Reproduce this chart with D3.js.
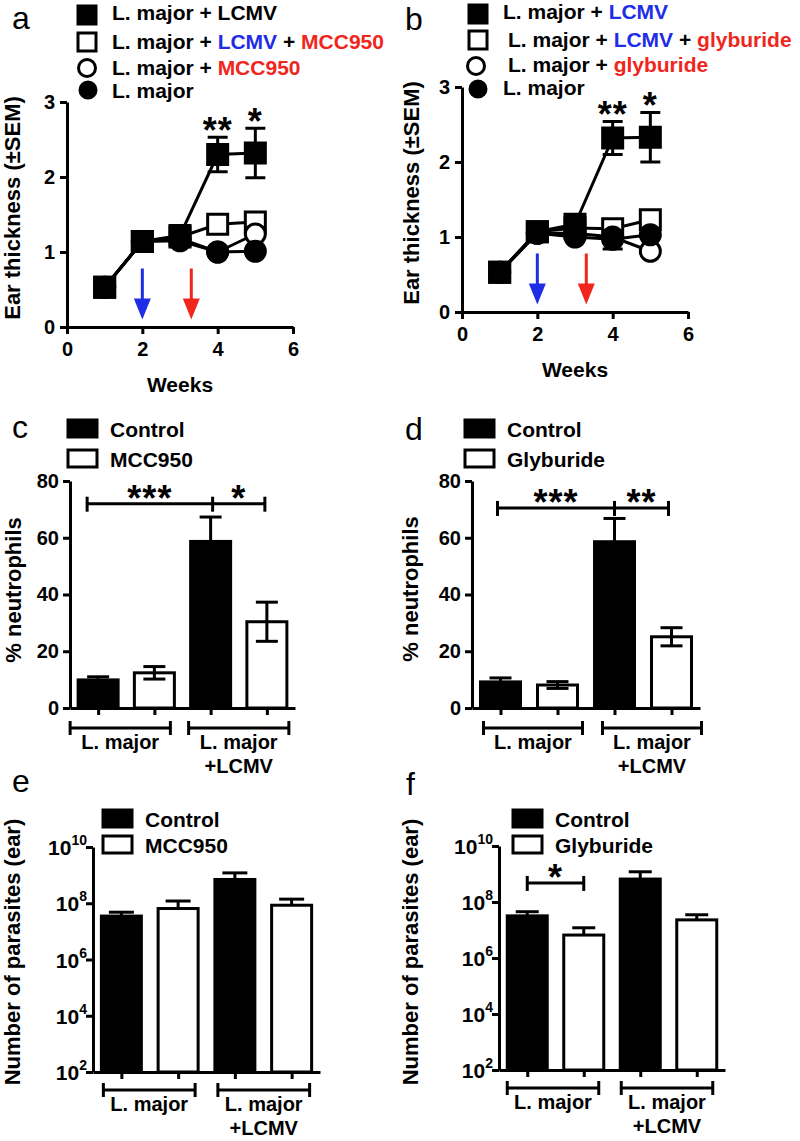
<!DOCTYPE html>
<html><head><meta charset="utf-8">
<script src="https://cdn.jsdelivr.net/npm/d3@7"></script>
<style>body{margin:0;background:#fff} svg text{font-family:"Liberation Sans",Arial,Helvetica,sans-serif;white-space:pre}</style>
</head><body><svg id="c" width="800" height="1141"></svg>
<script>
// ---------- DATA ----------
const weeks = [1, 2, 3, 4, 5];
const weekTicks = [0, 2, 4, 6];
const thickTicks = [0, 1, 2, 3];
const arrowWeeks = [2, 3.3];

// panel a
const aLmLcmv      = [0.53, 1.14, 1.22, 2.30, 2.32];
const aLmLcmvSem   = [0, 0, 0, 0.23, 0.33];
const aLmLcmvMcc   = [0.53, 1.14, 1.20, 1.37, 1.40];
const aLmMcc       = [0.53, 1.14, 1.18, 1.00, 1.24];
const aLm          = [0.53, 1.14, 1.15, 1.00, 1.01];
// panel b
const bLmLcmv      = [0.53, 1.07, 1.17, 2.32, 2.33];
const bLmLcmvSem   = [0, 0, 0, 0.22, 0.33];
const bLmLcmvGly   = [0.53, 1.07, 1.12, 1.11, 1.23];
const bLmGly       = [0.53, 1.05, 1.05, 1.00, 0.81];
const bLm          = [0.53, 1.05, 1.00, 0.97, 1.03];
const bLmSem       = [0, 0, 0, 0.13, 0];

// bar panels
const barCats = ["L. major Control", "L. major Drug", "L. major+LCMV Control", "L. major+LCMV Drug"];
const neutroTicks = [0, 20, 40, 60, 80];
const cNeutro    = [9.9, 12.4, 58.7, 30.4];
const cNeutroSem = [1.1, 2.2, 8.6, 6.9];
const dNeutro    = [9.2, 8.1, 58.6, 25.1];
const dNeutroSem = [1.4, 1.2, 8.2, 3.2];
const parasiteTicks = [1e2, 1e4, 1e6, 1e8, 1e10];
const eParasites    = [3.5e7, 6.5e7, 7.0e8, 8.5e7];
const eParasitesSem = [1.3e7, 5.5e7, 5.0e8, 5.5e7];
const fParasites    = [3.2e7, 6.6e6, 6.6e8, 2.3e7];
const fParasitesSem = [1.3e7, 5.4e6, 5.4e8, 1.2e7];

const BLUE = "#1f2de6", RED = "#f0261c";
const FONT = '"Liberation Sans", Arial, Helvetica, sans-serif';
const svg = d3.select("#c");

function styleAxis(g, fs) {
  g.attr("font-family", FONT).attr("font-size", fs).attr("font-weight", "bold");
  g.select(".domain").attr("stroke-width", 3).attr("stroke", "#000");
  g.selectAll(".tick line").attr("stroke-width", 3).attr("stroke", "#000");
  g.selectAll(".tick text").attr("fill", "#000");
}
function letter(t, x, y) {
  svg.append("text").attr("x", x).attr("y", y).attr("font-size", 32).attr("font-weight", "normal").text(t);
}
function yLabel(t, x, y, fs) {
  svg.append("text").attr("transform", `translate(${x},${y}) rotate(-90)`).attr("text-anchor", "middle")
    .attr("font-size", fs || 22).attr("font-weight", "bold").text(t);
}
function stars(t, cx, cy) {
  const fs = 36;
  svg.append("text").attr("x", cx).attr("y", cy + 0.57 * fs).attr("text-anchor", "middle")
    .attr("font-size", fs).attr("font-weight", "bold").attr("letter-spacing", 1).text(t);
}
function marker(g, type, cx, cy, s) {
  if (type === "fsq" || type === "osq") {
    g.append("rect").attr("x", cx - s / 2).attr("y", cy - s / 2).attr("width", s).attr("height", s)
      .attr("fill", type === "fsq" ? "#000" : "#fff").attr("stroke", "#000").attr("stroke-width", 3);
  } else {
    g.append("circle").attr("cx", cx).attr("cy", cy).attr("r", s / 2)
      .attr("fill", type === "fci" ? "#000" : "#fff").attr("stroke", "#000").attr("stroke-width", 3);
  }
}
function richText(g, x, y, parts, fs) {
  const t = g.append("text").attr("x", x).attr("y", y).attr("font-size", fs).attr("font-weight", "bold");
  parts.forEach(p => t.append("tspan").attr("fill", p[1]).text(p[0]));
}

// ---------- LINE PANELS ----------
function linePanel(c) {
  const g = svg.append("g");
  const x = d3.scaleLinear().domain([0, 6]).range([c.x0, c.x1]);
  const y = d3.scaleLinear().domain([0, 3]).range([c.y0, c.y3]);
  // arrows
  arrowWeeks.forEach((w, i) => {
    const col = i === 0 ? BLUE : RED;
    const ax = x(w), top = y(0.78), tip = y(0.1), headH = 21, headW = 17;
    g.append("line").attr("x1", ax).attr("x2", ax).attr("y1", top).attr("y2", tip - headH + 2)
      .attr("stroke", col).attr("stroke-width", 3);
    g.append("path").attr("d", `M${ax - headW / 2},${tip - headH} L${ax + headW / 2},${tip - headH} L${ax},${tip} Z`).attr("fill", col);
  });
  const line = d3.line().x((d, i) => x(weeks[i])).y(d => y(d));
  c.series.forEach(s => g.append("path").attr("d", line(s.values)).attr("fill", "none")
    .attr("stroke", "#000").attr("stroke-width", 3));
  c.series.forEach(s => {
    if (!s.sem) return;
    s.values.forEach((v, i) => {
      const e = s.sem[i]; if (!e) return;
      const xx = x(weeks[i]);
      g.append("line").attr("x1", xx).attr("x2", xx).attr("y1", y(v - e)).attr("y2", y(v + e)).attr("stroke", "#000").attr("stroke-width", 3);
      [v - e, v + e].forEach(u => g.append("line").attr("x1", xx - 10).attr("x2", xx + 10).attr("y1", y(u)).attr("y2", y(u)).attr("stroke", "#000").attr("stroke-width", 3));
    });
  });
  c.series.forEach(s => s.values.forEach((v, i) => marker(g, s.type, x(weeks[i]), y(v), 20)));
  g.append("g").attr("transform", `translate(0,${c.y0})`)
    .call(d3.axisBottom(x).tickValues(weekTicks).tickSize(7).tickSizeOuter(0).tickPadding(8).tickFormat(d3.format("d")))
    .call(a => styleAxis(a, 20));
  g.append("g").attr("transform", `translate(${c.x0},0)`)
    .call(d3.axisLeft(y).tickValues(thickTicks).tickSize(7).tickSizeOuter(0).tickPadding(5).tickFormat(d3.format("d")))
    .call(a => styleAxis(a, 20));
  g.append("text").attr("x", (c.x0 + c.x1) / 2).attr("y", c.weeksY).attr("text-anchor", "middle")
    .attr("font-size", 21).attr("font-weight", "bold").text("Weeks");
  c.starsAt.forEach(s => {
    const sr = c.series.find(q => q.type === "fsq");
    const i = weeks.indexOf(s[0]);
    stars(s[1], x(s[0]), y(sr.values[i] + sr.sem[i]) - 15);
  });
  // legend
  c.legend.forEach(L => {
    marker(g, L.type, L.mx, L.my, L.ms);
    richText(g, L.tx, L.ty, L.parts, 21);
  });
  return { x, y };
}

const pa = linePanel({
  x0: 67, x1: 293, y0: 327, y3: 102, weeksY: 392,
  series: [
    { type: "osq", values: aLmLcmvMcc },
    { type: "oci", values: aLmMcc },
    { type: "fci", values: aLm },
    { type: "fsq", values: aLmLcmv, sem: aLmLcmvSem }
  ],
  starsAt: [[4, "**"], [5, "*"]],
  legend: [
    { type: "fsq", mx: 87, my: 15, ms: 18, tx: 112, ty: 20, parts: [["L. major + LCMV", "#000"]] },
    { type: "osq", mx: 87, my: 42, ms: 18, tx: 112, ty: 49, parts: [["L. major + ", "#000"], ["LCMV", BLUE], [" + ", "#000"], ["MCC950", RED]] },
    { type: "oci", mx: 87, my: 68, ms: 17, tx: 112, ty: 75, parts: [["L. major + ", "#000"], ["MCC950", RED]] },
    { type: "fci", mx: 88, my: 90, ms: 16, tx: 112, ty: 98, parts: [["L. major", "#000"]] }
  ]
});
const pb = linePanel({
  x0: 462, x1: 688, y0: 312, y3: 87, weeksY: 377,
  series: [
    { type: "osq", values: bLmLcmvGly },
    { type: "oci", values: bLmGly },
    { type: "fci", values: bLm },
    { type: "fsq", values: bLmLcmv, sem: bLmLcmvSem }
  ],
  starsAt: [[4, "**"], [5, "*"]],
  legend: [
    { type: "fsq", mx: 478, my: 14, ms: 18, tx: 503, ty: 19, parts: [["L. major + ", "#000"], ["LCMV", BLUE]] },
    { type: "osq", mx: 478, my: 40, ms: 18, tx: 508, ty: 47, parts: [["L. major + ", "#000"], ["LCMV", BLUE], [" + ", "#000"], ["glyburide", RED]] },
    { type: "oci", mx: 476, my: 66, ms: 17, tx: 508, ty: 72, parts: [["L. major + ", "#000"], ["glyburide", RED]] },
    { type: "fci", mx: 478, my: 89, ms: 16, tx: 503, ty: 95, parts: [["L. major", "#000"]] }
  ]
});
// small SEM on L. major in panel b (week 4), lower whisker below marker
(function () {
  const i = 3, xx = pb.x(weeks[i]), v = bLm[i], e = bLmSem[i];
  svg.append("line").attr("x1", xx).attr("x2", xx).attr("y1", pb.y(v)).attr("y2", pb.y(v - e)).attr("stroke", "#000").attr("stroke-width", 3);
  svg.append("line").attr("x1", xx - 10).attr("x2", xx + 10).attr("y1", pb.y(v - e)).attr("y2", pb.y(v - e)).attr("stroke", "#000").attr("stroke-width", 3);
})();

// ---------- BAR PANELS ----------
const barFill = ["#000", "#fff", "#000", "#fff"];
function barPanel(c) {
  const g = svg.append("g");
  const x = d3.scalePoint().domain(barCats).range([c.x0, c.x1]).padding(0.5);
  const y = c.log ? d3.scaleLog().domain([1e2, 1e10]).range([c.y0, c.yTop])
                  : d3.scaleLinear().domain([0, 80]).range([c.y0, c.yTop]);
  const bw = 40;
  barCats.forEach((k, i) => {
    const v = c.values[i];
    g.append("rect").attr("x", x(k) - bw / 2).attr("y", y(v)).attr("width", bw).attr("height", c.y0 - y(v))
      .attr("fill", barFill[i]).attr("stroke", "#000").attr("stroke-width", 3);
  });
  barCats.forEach((k, i) => {
    const v = c.values[i], e = c.sem[i], xx = x(k);
    const lo = c.log ? v : v - e, hi = v + e;
    g.append("line").attr("x1", xx).attr("x2", xx).attr("y1", y(lo)).attr("y2", y(hi)).attr("stroke", "#000").attr("stroke-width", 3);
    const caps = c.log ? [hi] : [lo, hi];
    caps.forEach(u => g.append("line").attr("x1", xx - c.cap / 2).attr("x2", xx + c.cap / 2).attr("y1", y(u)).attr("y2", y(u)).attr("stroke", "#000").attr("stroke-width", 3));
  });
  // axes
  g.append("g").attr("transform", `translate(0,${c.y0})`)
    .call(d3.axisBottom(x).tickSize(7).tickSizeOuter(0).tickFormat(""))
    .call(a => styleAxis(a, 19));
  if (c.log) {
    g.append("g").attr("transform", `translate(${c.x0},0)`)
      .call(d3.axisLeft(y).tickValues(parasiteTicks).tickSize(7).tickSizeOuter(0).tickFormat(""))
      .call(a => styleAxis(a, 19));
    parasiteTicks.forEach(t => {
      const tx = g.append("text").attr("x", c.x0 - 6).attr("y", y(t) + 8).attr("text-anchor", "end")
        .attr("font-size", 21).attr("font-weight", "bold");
      tx.append("tspan").text("10");
      tx.append("tspan").attr("dy", -10).attr("font-size", 14).text(String(Math.round(Math.log10(t))));
    });
  } else {
    g.append("g").attr("transform", `translate(${c.x0},0)`)
      .call(d3.axisLeft(y).tickValues(neutroTicks).tickSize(7).tickSizeOuter(0).tickPadding(4).tickFormat(d3.format("d")))
      .call(a => styleAxis(a, 20));
  }
  // group brackets
  const by = c.y0 + c.brkDy;
  [[0, 1, ["L. major"]], [2, 3, ["L. major", "+LCMV"]]].forEach((gr, gi) => {
    const l = x(barCats[gr[0]]) + c.brk[gi][0], r = x(barCats[gr[1]]) + c.brk[gi][1];
    g.append("line").attr("x1", l).attr("x2", r).attr("y1", by).attr("y2", by).attr("stroke", "#000").attr("stroke-width", 3);
    [l, r].forEach(e => g.append("line").attr("x1", e).attr("x2", e).attr("y1", by - 7).attr("y2", by + 7).attr("stroke", "#000").attr("stroke-width", 3));
    gr[2].forEach((t, li) => g.append("text").attr("x", (l + r) / 2).attr("y", by + 21 + li * 24).attr("text-anchor", "middle")
      .attr("font-size", 20).attr("font-weight", "bold").text(t));
  });
  // significance
  if (c.sig) {
    const sy = y(c.sig.level);
    const pts = c.sig.idx.map((k, j) => x(barCats[k]) + (c.sig.off ? c.sig.off[j] : 0));
    g.append("line").attr("x1", pts[0]).attr("x2", pts[pts.length - 1]).attr("y1", sy).attr("y2", sy).attr("stroke", "#000").attr("stroke-width", 3);
    pts.forEach(p => g.append("line").attr("x1", p).attr("x2", p).attr("y1", sy - 7).attr("y2", sy + 8).attr("stroke", "#000").attr("stroke-width", 3));
    c.sig.labels.forEach((t, j) => stars(t, (pts[j] + pts[j + 1]) / 2, sy - 13));
  }
  // legend
  [["Control", "#000"], [c.drug, "#fff"]].forEach((L, i) => {
    const ty = c.legY[i];
    g.append("rect").attr("x", c.legX).attr("y", ty - 17).attr("width", 29).attr("height", 17)
      .attr("fill", L[1]).attr("stroke", "#000").attr("stroke-width", 3);
    g.append("text").attr("x", c.legX + 42).attr("y", ty).attr("font-size", 21).attr("font-weight", "bold").text(L[0]);
  });
}

barPanel({ x0: 70, x1: 295, y0: 708, yTop: 481, values: cNeutro, sem: cNeutroSem, cap: 22, drug: "MCC950",
  brkDy: 20, brk: [[-28, 16], [-22, 22]], legX: 68, legY: [437, 467],
  sig: { level: 72, idx: [0, 2, 3], off: [-11, 2, -2], labels: ["***", "*"] } });
barPanel({ x0: 472, x1: 700, y0: 708, yTop: 481, values: dNeutro, sem: dNeutroSem, cap: 22, drug: "Glyburide",
  brkDy: 20, brk: [[-17, 25], [-12, 30]], legX: 465, legY: [437, 467],
  sig: { level: 70.5, idx: [0, 2, 3], off: [-3, 0, -3], labels: ["***", "**"] } });
barPanel({ x0: 93, x1: 320, y0: 1072, yTop: 847, log: true, values: eParasites, sem: eParasitesSem, cap: 25, drug: "MCC950",
  brkDy: 18, brk: [[-18, 17], [-17, 18]], legX: 103, legY: [827, 853] });
barPanel({ x0: 499, x1: 725, y0: 1070, yTop: 846, log: true, values: fParasites, sem: fParasitesSem, cap: 23, drug: "Glyburide",
  brkDy: 18, brk: [[-20, 15], [-19, 16]], legX: 513, legY: [827, 853],
  sig: { level: 4.8e8, idx: [0, 1], labels: ["*"] } });

// ---------- LABELS ----------
letter("a", 12, 29); letter("b", 405, 30);
letter("c", 12, 438); letter("d", 405, 440);
letter("e", 12, 792); letter("f", 406, 795);
yLabel("Ear thickness (\u00B1SEM)", 20, 208, 22);
yLabel("Ear thickness (\u00B1SEM)", 419, 193, 22);
yLabel("% neutrophils", 21, 590, 22);
yLabel("% neutrophils", 418, 589, 22);
yLabel("Number of parasites (ear)", 20, 952, 22);
yLabel("Number of parasites (ear)", 418, 952, 22);
</script></body></html>
